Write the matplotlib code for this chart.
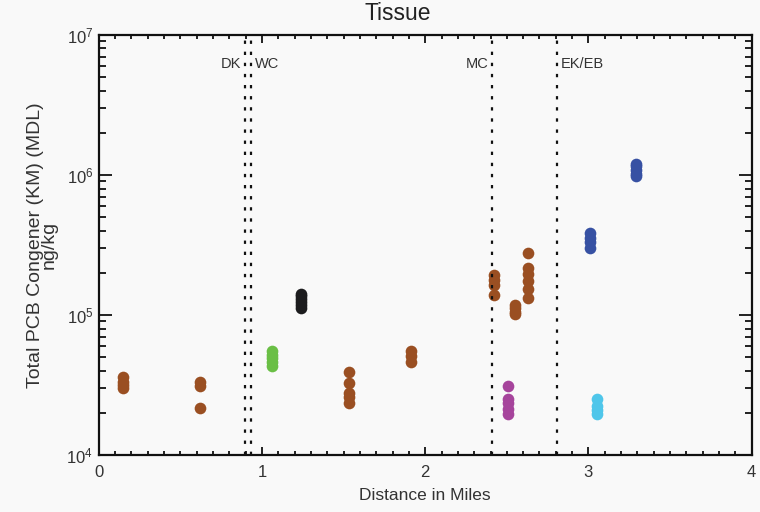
import matplotlib
matplotlib.use("Agg")
import matplotlib.pyplot as plt
from matplotlib.ticker import LogLocator, FixedLocator, NullFormatter

plt.rcParams['font.family'] = ['Liberation Sans', 'DejaVu Sans']
plt.rcParams['mathtext.fontset'] = 'custom'
plt.rcParams['mathtext.rm'] = 'Liberation Sans'
plt.rcParams['mathtext.it'] = 'Liberation Sans'
plt.rcParams['lines.scale_dashes'] = False

# Sample groups: distance (miles), concentrations (ng/kg), colour
brown_a_x = 0.15
brown_a = [36000, 33500, 31500, 30000]
brown_b_x = 0.62
brown_b = [33500, 31000, 21800]
green_x = 1.06
green = [55000, 52000, 49000, 46000, 43000]
black_x = 1.24
black = [142000, 136000, 130000, 124000, 118000, 113000]
brown_c_x = 1.53
brown_c = [39000, 32800, 27800, 26000, 23400]
brown_d_x = 1.91
brown_d = [55000, 51000, 46000]
brown_e_x = 2.42
brown_e = [193000, 178000, 164000, 139000]
purple_x = 2.51
purple = [31000, 25000, 23500, 21500, 19800]
brown_f_x = 2.55
brown_f = [118000, 112000, 106000, 101000]
brown_g_x = 2.63
brown_g = [276000, 218000, 195000, 175000, 153000, 133000]
navy_a_x = 3.01
navy_a = [385000, 355000, 330000, 300000]
cyan_x = 3.05
cyan = [25000, 22500, 21000, 19800]
navy_b_x = 3.29
navy_b = [1200000, 1150000, 1080000, 1020000, 990000]

BROWN = '#9a4f22'
groups = [
    (brown_a_x, brown_a, BROWN),
    (brown_b_x, brown_b, BROWN),
    (green_x, green, '#6abf45'),
    (black_x, black, '#1c1c1e'),
    (brown_c_x, brown_c, BROWN),
    (brown_d_x, brown_d, BROWN),
    (brown_e_x, brown_e, BROWN),
    (purple_x, purple, '#a6449c'),
    (brown_f_x, brown_f, BROWN),
    (brown_g_x, brown_g, BROWN),
    (navy_a_x, navy_a, '#3751a3'),
    (cyan_x, cyan, '#4fc6ea'),
    (navy_b_x, navy_b, '#3751a3'),
]

# Reach boundaries
boundary_x = [0.898, 0.934, 2.41, 2.805]
boundary_labels = ['DK', 'WC', 'MC', 'EK/EB']
label_side = ['left', 'right', 'left', 'right']

BG = '#f9f9f9'
fig = plt.figure(figsize=(7.6, 5.12), dpi=100, facecolor=BG)
ax = fig.add_axes([0.130, 0.111, 0.859, 0.821], facecolor=BG)

for x, vals, col in groups:
    ax.plot([x] * len(vals), vals, 'o', color=col, markersize=8.4,
            markeredgewidth=0, linestyle='none')

for bx, lab, side in zip(boundary_x, boundary_labels, label_side):
    ax.axvline(bx, color='#111111', lw=1.6, linestyle=(0, (2.4, 5.6)))
    if side == 'left':
        ax.text(bx - 0.025, 0.93, lab, ha='right', va='center', fontsize=10.5,
                color='#333333', transform=ax.get_xaxis_transform())
    else:
        ax.text(bx + 0.025, 0.93, lab, ha='left', va='center', fontsize=10.5,
                color='#333333', transform=ax.get_xaxis_transform())

ax.set_yscale('log')
ax.set_xlim(0, 4)
ax.set_ylim(1e4, 1e7)

ax.xaxis.set_major_locator(FixedLocator([0, 1, 2, 3, 4]))
ax.xaxis.set_minor_locator(FixedLocator([i / 10 for i in range(41) if i % 10]))
ax.set_xticklabels(['0', '1', '2', '3', '4'])
ax.yaxis.set_minor_locator(LogLocator(base=10, subs=range(2, 10), numticks=20))
ax.yaxis.set_minor_formatter(NullFormatter())
ax.set_yticks([1e4, 1e5, 1e6, 1e7])
ax.set_yticklabels([r'$10^{4}$', r'$10^{5}$', r'$10^{6}$', r'$10^{7}$'])

ax.tick_params(axis='x', which='major', direction='in', length=5.5, width=1.3,
               top=True, labelsize=12, colors='#111111', labelcolor='#333333', pad=7)
ax.tick_params(axis='x', which='minor', direction='in', length=2.8, width=1.3,
               top=True, colors='#111111')
ax.tick_params(axis='y', which='major', direction='in', length=9.5, width=1.3,
               right=True, labelsize=12, colors='#111111', labelcolor='#333333', pad=4)
ax.tick_params(axis='y', which='minor', direction='in', length=4.8, width=1.3,
               right=True, colors='#111111')
for sp in ax.spines.values():
    sp.set_linewidth(1.6)
    sp.set_color('#111111')

fig.text(398 / 760, 1 - 14 / 512, 'Tissue', ha='center', va='center',
         fontsize=16.5, color='#222222')
ax.set_xlabel('Distance in Miles', fontsize=12.5, color='#333333', labelpad=6)
ax.set_ylabel('Total PCB Congener (KM) (MDL)\nng/kg', fontsize=14,
              color='#333333', linespacing=0.8, labelpad=6)

fig.savefig('out.png', dpi=100, facecolor=BG)
